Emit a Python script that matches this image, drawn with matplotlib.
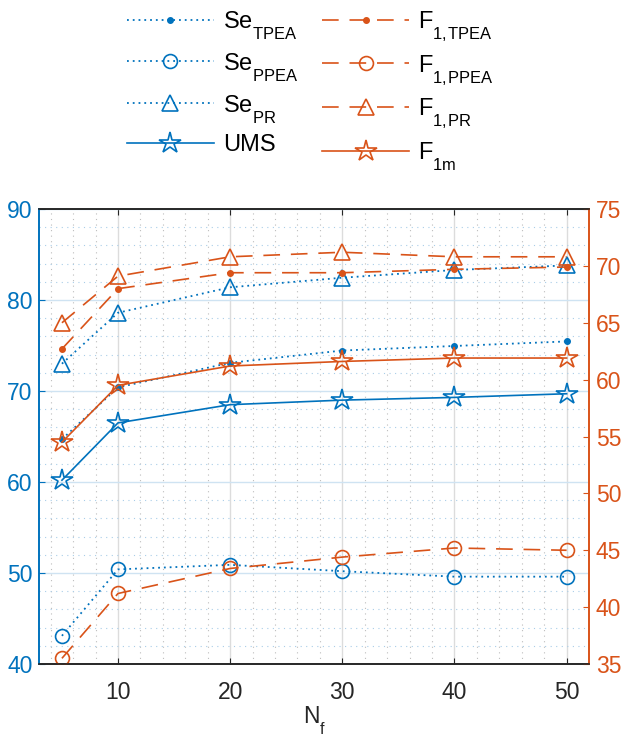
import numpy as np
import matplotlib
matplotlib.use('Agg')
import matplotlib.pyplot as plt
from matplotlib.ticker import MultipleLocator

plt.rcParams['font.family'] = ['Liberation Sans', 'DejaVu Sans']
plt.rcParams['mathtext.fontset'] = 'custom'
plt.rcParams['mathtext.rm'] = 'Liberation Sans'

# push subscripts a bit lower, like the MATLAB output
try:
    from matplotlib import _mathtext
    _mathtext.FontConstantsBase.sub1 = 0.85
except Exception:
    pass

BLUE = '#0072BD'
ORANGE = '#D95319'
DARK = '#262626'

# --- data ---
nf = [5, 10, 20, 30, 40, 50]

se_tpea = [64.7, 70.4, 73.1, 74.45, 74.95, 75.45]
se_ppea = [43.1, 50.4, 50.9, 50.2, 49.6, 49.6]
se_pr = [73.0, 78.6, 81.4, 82.45, 83.3, 83.8]
ums = [60.2, 66.5, 68.5, 69.0, 69.3, 69.7]

f1_tpea = [62.7, 68.0, 69.4, 69.4, 69.7, 69.9]
f1_ppea = [35.5, 41.2, 43.4, 44.4, 45.2, 45.0]
f1_pr = [65.0, 69.1, 70.8, 71.2, 70.8, 70.8]
f1m = [54.5, 59.5, 61.2, 61.6, 61.9, 61.9]

fig = plt.figure(figsize=(6.22, 7.36), dpi=100)
ax = fig.add_axes([0.0635, 0.0978, 0.8835, 0.6182])
ax2 = ax.twinx()

dash = (0, (10, 6.5))
dot = (0, (1, 2.2))

# left axis (blue)
l1, = ax.plot(nf, se_tpea, ls=dot, lw=1.3, color=BLUE, marker='.', ms=8)
l2, = ax.plot(nf, se_ppea, ls=dot, lw=1.3, color=BLUE, marker='o', ms=10, mfc='none', mew=1.2)
l3, = ax.plot(nf, se_pr, ls=dot, lw=1.3, color=BLUE, marker='^', ms=11, mfc='none', mew=1.2)
l4, = ax.plot(nf, ums, ls='-', lw=1.2, color=BLUE, marker='*', ms=16, mfc='none', mew=1.2)

# right axis (orange)
r1, = ax2.plot(nf, f1_tpea, ls=dash, lw=1.2, color=ORANGE, marker='.', ms=8)
r2, = ax2.plot(nf, f1_ppea, ls=dash, lw=1.2, color=ORANGE, marker='o', ms=10, mfc='none', mew=1.2)
r3, = ax2.plot(nf, f1_pr, ls=dash, lw=1.2, color=ORANGE, marker='^', ms=11, mfc='none', mew=1.2)
r4, = ax2.plot(nf, f1m, ls='-', lw=1.2, color=ORANGE, marker='*', ms=16, mfc='none', mew=1.2)

ax.set_xlim(3, 52)
ax.set_ylim(40, 90)
ax2.set_ylim(35, 75)

ax.xaxis.set_major_locator(MultipleLocator(10))
ax.xaxis.set_minor_locator(MultipleLocator(2))
ax.yaxis.set_major_locator(MultipleLocator(10))
ax.yaxis.set_minor_locator(MultipleLocator(2))
ax2.yaxis.set_major_locator(MultipleLocator(5))

# grids
ax.grid(True, which='major', axis='x', color='#dcdcdc', lw=1.0)
ax.grid(True, which='major', axis='y', color='#cfe3f2', lw=1.0)
ax.grid(True, which='minor', axis='x', color='#bdbdbd', lw=0.8, ls=(0, (1, 4)))
ax.grid(True, which='minor', axis='y', color='#a9cde8', lw=0.8, ls=(0, (1, 4)))
ax.set_axisbelow(True)

# spines / ticks
for a in (ax, ax2):
    a.spines['top'].set_color(DARK)
    a.spines['bottom'].set_color(DARK)
    a.spines['left'].set_color(BLUE)
    a.spines['right'].set_color(ORANGE)
    for s in a.spines.values():
        s.set_linewidth(1.2)

ax.tick_params(axis='x', which='both', direction='in', top=True, colors=DARK, labelsize=16.5, length=4, pad=12)
ax.tick_params(axis='x', which='minor', length=0)
ax.tick_params(axis='y', which='major', direction='in', colors=BLUE, labelsize=16.5, length=4, pad=5)
ax.tick_params(axis='y', which='minor', direction='in', colors=BLUE, length=0)
ax2.tick_params(axis='y', which='major', direction='in', colors=ORANGE, labelsize=16.5, length=4, pad=5)

ax.set_xlabel(r'N$_{\mathrm{f}}$', fontsize=16.5, color=DARK, labelpad=1)

# legend above the plot (column-major order)
handles = [l1, l2, l3, l4, r1, r2, r3, r4]
labels = [r'Se$_{\mathrm{TPEA}}$', r'Se$_{\mathrm{PPEA}}$', r'Se$_{\mathrm{PR}}$', 'UMS',
          r'F$_{\mathrm{1,\!TPEA}}$', r'F$_{\mathrm{1,\!PPEA}}$', r'F$_{\mathrm{1,\!PR}}$',
          r'F$_{\mathrm{1m}}$']
fig.legend(handles, labels, ncol=2, loc='upper left', bbox_to_anchor=(115 / 622, 1.004),
           frameon=False, fontsize=17, handlelength=3.7, handletextpad=0.38,
           columnspacing=1.0, labelspacing=0.38, borderaxespad=0.1)

fig.savefig('out.png', dpi=100)
